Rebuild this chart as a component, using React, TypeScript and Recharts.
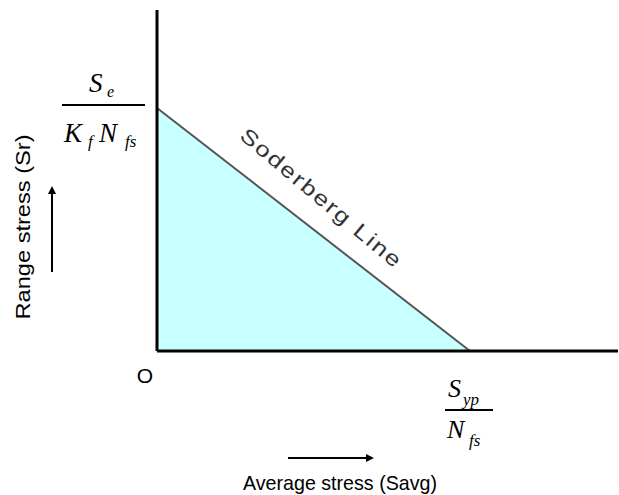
import { ComposedChart, Area, XAxis, YAxis, ReferenceLine, ReferenceDot, Customized } from 'recharts';

// Soderberg line: intercepts normalised to 1 on both axes
const avgStress = [0, 1];
const rangeStress = [1, 0];
const xMax = 1.473;
const yMax = 1.403;
const lineMid = { x: 0.5, y: 0.5 };

const data = avgStress.map((x, i) => ({ x, y: rangeStress[i] }));

const serif = '"Liberation Serif", "Times New Roman", serif';
const sans = '"Liberation Sans", Arial, sans-serif';

const centerOf = (vb: any) => ({ cx: vb.x + vb.width / 2, cy: vb.y + vb.height / 2 });

// S_e / (K_f N_fs) beside the top of the y axis
const EnduranceLabel = (props: any) => {
  const { cx, cy } = centerOf(props.viewBox);
  const mx = cx - 54;
  const ly = cy - 3;
  return (
    <g fontFamily={serif} fontStyle="italic" fill="#000">
      <text x={mx - 14} y={ly - 13} fontSize={27}>S</text>
      <text x={mx + 4} y={ly - 8} fontSize={16}>e</text>
      <line x1={mx - 41} x2={mx + 42} y1={ly} y2={ly} stroke="#000" strokeWidth={2} />
      <text x={mx - 39} y={ly + 37} fontSize={27}>K</text>
      <text x={mx - 15} y={ly + 42} fontSize={17}>f</text>
      <text x={mx - 4} y={ly + 37} fontSize={27}>N</text>
      <text x={mx + 22} y={ly + 42} fontSize={17}>fs</text>
    </g>
  );
};

// S_yp / N_fs under the end of the line
const YieldLabel = (props: any) => {
  const { cx, cy } = centerOf(props.viewBox);
  const mx = cx - 1;
  const ly = cy + 59;
  return (
    <g fontFamily={serif} fontStyle="italic" fill="#000">
      <text x={mx - 21} y={ly - 13} fontSize={26}>S</text>
      <text x={mx - 6} y={ly - 5} fontSize={17}>yp</text>
      <line x1={mx - 24} x2={mx + 24} y1={ly} y2={ly} stroke="#000" strokeWidth={2} />
      <text x={mx - 22} y={ly + 28} fontSize={26}>N</text>
      <text x={mx} y={ly + 36} fontSize={17}>fs</text>
    </g>
  );
};

const LineName = (props: any) => {
  const { cx, cy } = centerOf(props.viewBox);
  const tx = cx + 7;
  const ty = cy - 30;
  return (
    <text
      x={tx}
      y={ty}
      fontFamily={sans}
      fontSize={21}
      letterSpacing={1.5}
      fill="#333"
      textAnchor="middle"
      dominantBaseline="middle"
      textLength={205}
      lengthAdjust="spacingAndGlyphs"
      transform={`rotate(40 ${tx} ${ty})`}
    >
      Soderberg Line
    </text>
  );
};

const Titles = () => (
  <g fontFamily={sans} fill="#000">
    <defs>
      <marker id="arrowHead" markerWidth="8" markerHeight="8" refX="4" refY="4" orient="auto" markerUnits="userSpaceOnUse">
        <path d="M0,0 L8,4 L0,8 z" fill="#000" />
      </marker>
    </defs>
    <text x={145} y={383} fontSize={21} textAnchor="middle">O</text>
    <line x1={52} y1={272} x2={52} y2={190} stroke="#000" strokeWidth={2} markerEnd="url(#arrowHead)" />
    <text
      x={24}
      y={227}
      fontSize={21}
      textAnchor="middle"
      dominantBaseline="middle"
      textLength={185}
      lengthAdjust="spacingAndGlyphs"
      transform="rotate(-90 24 227)"
    >
      Range stress (Sr)
    </text>
    <line x1={288} y1={458} x2={370} y2={458} stroke="#000" strokeWidth={2} markerEnd="url(#arrowHead)" />
    <text x={340} y={490} fontSize={21} textAnchor="middle" textLength={194} lengthAdjust="spacingAndGlyphs">
      Average stress (Savg)
    </text>
  </g>
);

export default function App() {
  return (
    <div style={{ position: 'absolute', left: 0, top: 0, width: 619, height: 495, background: '#fff' }}>
      <ComposedChart width={619} height={495} data={data} margin={{ top: 10, right: 1, left: 157, bottom: 144 }}>
        <XAxis type="number" dataKey="x" domain={[0, xMax]} hide />
        <YAxis type="number" domain={[0, yMax]} hide />
        <Area
          type="linear"
          dataKey="y"
          stroke="#555"
          strokeWidth={2}
          fill="#c8ffff"
          fillOpacity={1}
          isAnimationActive={false}
        />
        <ReferenceLine x={0} stroke="#000" strokeWidth={3} />
        <ReferenceLine y={0} stroke="#000" strokeWidth={3} />
        <ReferenceDot x={0} y={rangeStress[0]} r={1} fill="none" stroke="none" label={{ content: EnduranceLabel }} />
        <ReferenceDot x={avgStress[1]} y={0} r={1} fill="none" stroke="none" label={{ content: YieldLabel }} />
        <ReferenceDot x={lineMid.x} y={lineMid.y} r={1} fill="none" stroke="none" label={{ content: LineName }} />
        <Customized component={Titles} />
      </ComposedChart>
    </div>
  );
}
